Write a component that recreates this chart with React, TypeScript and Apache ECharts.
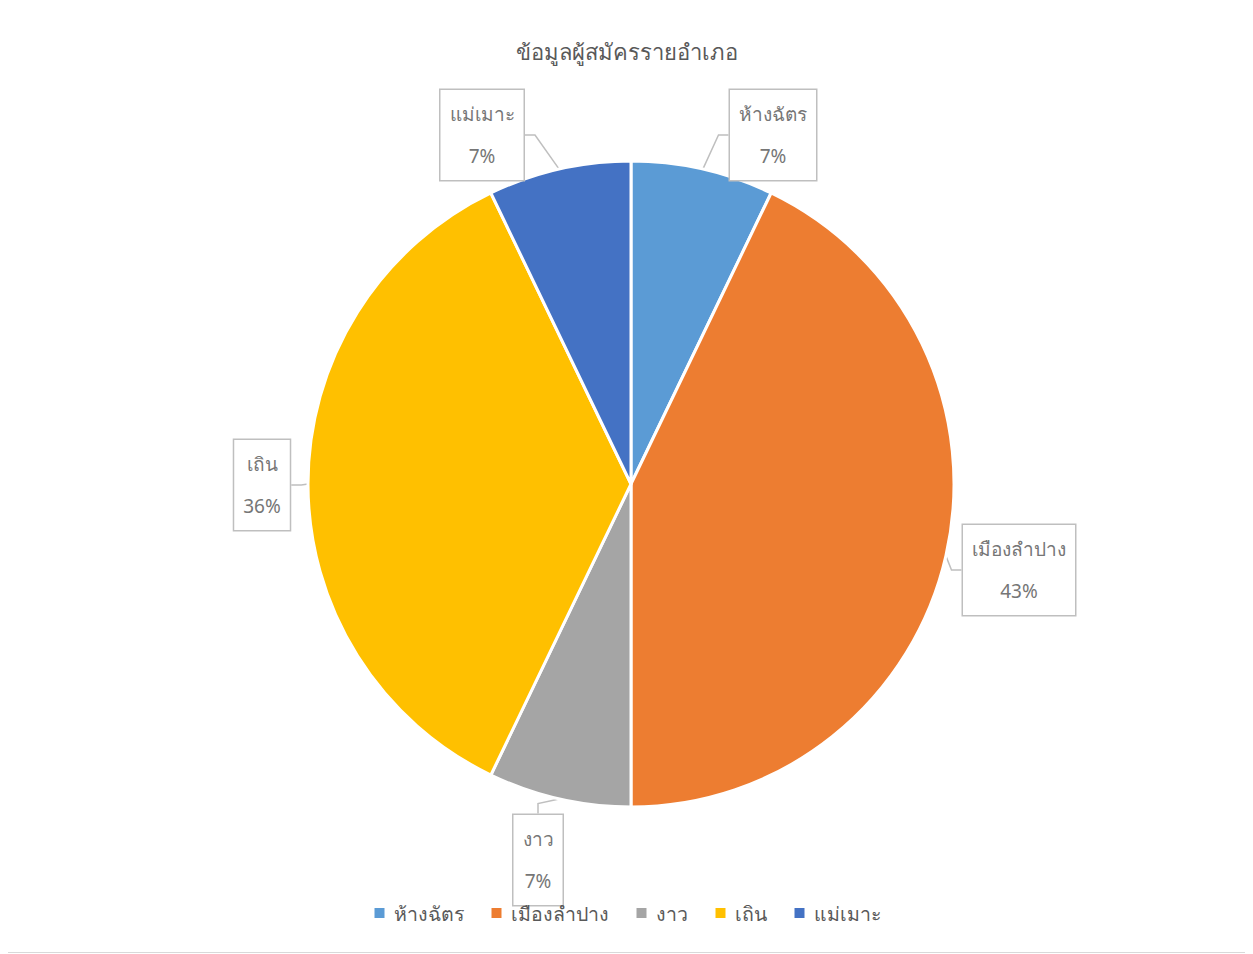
import React, { useEffect, useRef } from "react";
import * as echarts from "echarts";

const categories = ["ห้างฉัตร", "เมืองลำปาง", "งาว", "เถิน", "แม่เมาะ"];
const values = [1, 6, 1, 5, 1];
const colors = ["#5B9BD5", "#ED7D31", "#A5A5A5", "#FFC000", "#4472C4"];
const titleText = "ข้อมูลผู้สมัครรายอำเภอ";
// label box centres (layout only)
const labelPos: [number, number][] = [
  [765, 127],
  [1011, 562],
  [530, 852],
  [254, 477],
  [474, 127],
];

export default function App() {
  const ref = useRef<HTMLDivElement>(null);
  useEffect(() => {
    if (!ref.current) return;
    const chart = echarts.init(ref.current, undefined, { renderer: "svg" });
    const font = "Noto Sans, Roboto, sans-serif";
    chart.setOption({
      animation: false,
      textStyle: { fontFamily: font },
      title: {
        text: titleText,
        left: "center",
        top: 27,
        textStyle: { fontSize: 22, fontWeight: "normal", color: "#595959", fontFamily: font },
      },
      legend: {
        bottom: 24,
        left: "center",
        icon: "rect",
        itemWidth: 12,
        itemHeight: 12,
        itemGap: 26,
        textStyle: { fontSize: 19.5, color: "#595959", fontFamily: font, padding: [0, 0, 0, 3] },
        data: categories,
      },
      series: [
        {
          type: "pie",
          center: [623, 476],
          radius: 323,
          startAngle: 90,
          clockwise: true,
          percentPrecision: 0,
          itemStyle: { borderColor: "#ffffff", borderWidth: 3 },
          data: categories.map((c, i) => ({
            name: c,
            value: values[i],
            itemStyle: { color: colors[i] },
          })),
          label: {
            show: true,
            position: "outside",
            formatter: "{b}\n{d}%",
            fontSize: 19,
            lineHeight: 42,
            color: "#767676",
            fontFamily: font,
            backgroundColor: "#ffffff",
            borderColor: "#bfbfbf",
            borderWidth: 1.5,
            padding: [3, 9, 3, 9],
            align: "center",
          },
          labelLine: {
            show: true,
            length: 20,
            length2: 10,
            lineStyle: { color: "#bfbfbf", width: 1.5 },
          },
          labelLayout: (params: any) => {
            const p = labelPos[params.dataIndex];
            return { x: p[0], y: p[1], align: "center", verticalAlign: "middle" };
          },
        },
      ],
    });
    return () => chart.dispose();
  }, []);
  return (
    <div
      style={{
        width: 1239,
        height: 946,
        boxSizing: "border-box",
        border: "1px solid #d9d9d9",
        marginLeft: -1,
        marginTop: -1,
      }}
    >
      <div ref={ref} style={{ width: 1237, height: 944 }} />
    </div>
  );
}
